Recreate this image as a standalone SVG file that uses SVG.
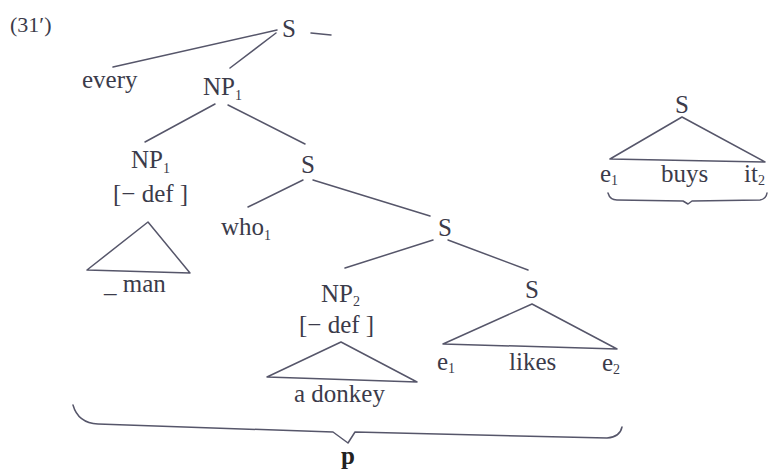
<svg xmlns="http://www.w3.org/2000/svg" width="769" height="471" viewBox="0 0 769 471">
<style>
text{font-family:"Liberation Serif","Times New Roman",serif;fill:#3b3b4a;font-size:25px}
.lbl{text-anchor:middle}
.sub{font-size:14px}
.cat{font-size:25px}
.e{stroke:#56566a;stroke-width:1.5;fill:none;stroke-linecap:round;stroke-linejoin:round}
</style>
<rect width="769" height="471" fill="#fff"/>
<text x="10" y="32" style="font-size:22px">(31′)</text>
<g id="connectors" class="e">
<line x1="277" y1="30" x2="113" y2="67"/>
<line x1="276" y1="33" x2="230" y2="68"/>
<line x1="311" y1="33" x2="331" y2="35"/>
<line x1="215" y1="104" x2="145" y2="142"/>
<line x1="228" y1="105" x2="305" y2="144"/>
<line x1="303" y1="180" x2="248" y2="207"/>
<line x1="313" y1="180" x2="430" y2="216"/>
<line x1="433" y1="240" x2="345" y2="268"/>
<line x1="448" y1="240" x2="528" y2="270"/>
</g>
<g id="S-top"><text class="lbl cat" x="289" y="37">S</text></g>
<g id="every"><text x="82" y="88">every</text></g>
<g id="NP1-top"><text x="203" y="95">NP<tspan class="sub" dy="5">1</tspan></text></g>
<g id="NP1-def">
<text x="131" y="168">NP<tspan class="sub" dy="5">1</tspan></text>
<text x="113" y="202">[− def ]</text>
<path class="e" d="M148,222 L87,270 L190,273 Z"/>
<text x="104" y="292">_ man</text>
</g>
<g id="S-2"><text class="lbl cat" x="308" y="173">S</text></g>
<g id="who1"><text x="221" y="235">who<tspan class="sub" dy="5">1</tspan></text></g>
<g id="S-3"><text class="lbl cat" x="445" y="236">S</text></g>
<g id="NP2-def">
<text x="321" y="302">NP<tspan class="sub" dy="4">2</tspan></text>
<text x="299" y="333">[− def ]</text>
<path class="e" d="M341,342 L267,377 L417,382 Z"/>
<text x="294" y="402">a donkey</text>
</g>
<g id="S-4">
<text class="lbl cat" x="532" y="298">S</text>
<path class="e" d="M532,304 L443,344 L617,349 Z"/>
<text x="437" y="370">e<tspan class="sub" dy="3">1</tspan></text>
<text x="509" y="370">likes</text>
<text x="602" y="371">e<tspan class="sub" dy="3">2</tspan></text>
</g>
<g id="brace-p">
<path class="e" d="M73,405 Q78,423 98,424 L333,432 L348,443 L355,432 L607,438 Q620,437 622,427"/>
<text class="lbl" x="348" y="464" style="font-weight:bold;fill:#222">p</text>
</g>
<g id="S-right">
<text class="lbl cat" x="682" y="113">S</text>
<path class="e" d="M682,117 L610,159 L765,162 Z"/>
<text x="600" y="182">e<tspan class="sub" dy="3">1</tspan></text>
<text x="661" y="182">buys</text>
<text x="744" y="182">it<tspan class="sub" dy="3">2</tspan></text>
<path class="e" d="M608,193 Q610,200 617,200 L683,201 L688,204 L692,201 L760,200 Q766,199 767,193"/>
</g>
</svg>
